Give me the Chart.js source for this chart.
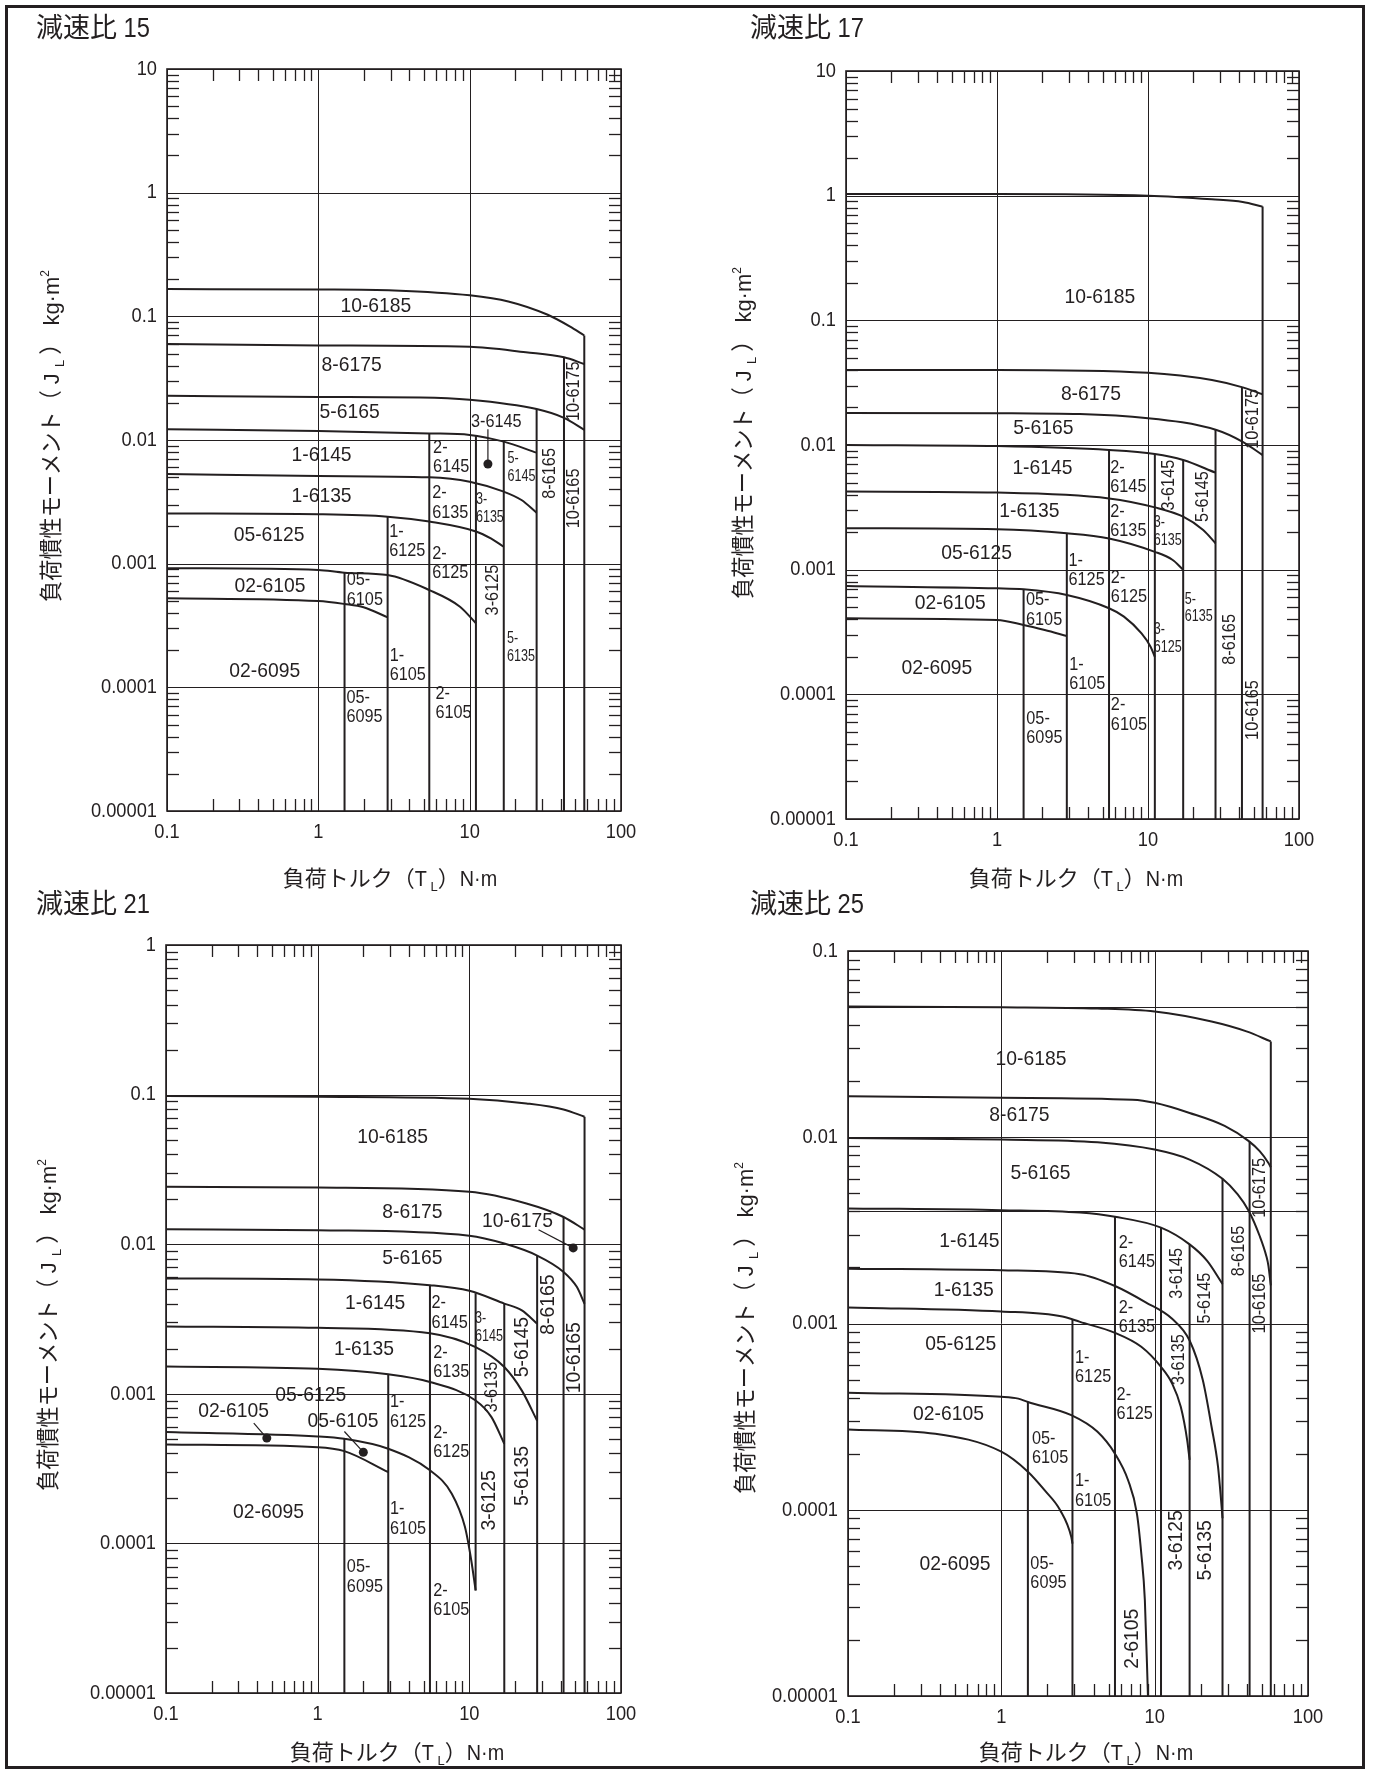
<!DOCTYPE html>
<html>
<head>
<meta charset="utf-8">
<script src="https://cdn.jsdelivr.net/npm/chart.js@4.4.0/dist/chart.umd.min.js"></script>
<style>
  html, body { margin: 0; padding: 0; background: #fff; }
  #page { position: relative; width: 1375px; height: 1774px; overflow: hidden; background: #fff; }
  #page canvas { position: absolute; left: 0; top: 0; }
  #frame { position: absolute; left: 5px; top: 5px; width: 1360px; height: 1764px;
           border: 3px solid #231f20; box-sizing: border-box; }
</style>
</head>
<body>
<div id="page">
  <div id="frame"></div>
  <canvas id="c15" width="1375" height="1774"></canvas>
  <canvas id="c17" width="1375" height="1774"></canvas>
  <canvas id="c21" width="1375" height="1774"></canvas>
  <canvas id="c25" width="1375" height="1774"></canvas>
</div>
<script>
'use strict';

// ── Axis ticks ──────────────────────────────────────────────────────────
const xTickValues = [0.1, 1, 10, 100];
const xTickLabels = ['0.1', '1', '10', '100'];

const yTickValues15 = [0.00001, 0.0001, 0.001, 0.01, 0.1, 1, 10];
const yTickLabels15 = ['0.00001', '0.0001', '0.001', '0.01', '0.1', '1', '10'];
const yTickValues21 = [0.00001, 0.0001, 0.001, 0.01, 0.1, 1];
const yTickLabels21 = ['0.00001', '0.0001', '0.001', '0.01', '0.1', '1'];
const yTickValues25 = [0.00001, 0.0001, 0.001, 0.01, 0.1];
const yTickLabels25 = ['0.00001', '0.0001', '0.001', '0.01', '0.1'];

// ── 減速比 15 ─────────────────────────────────────────────────────────────
// inertia limit curves [torque N·m, J kg·m²], top to bottom
const curves15 = [
  [[0.1, 0.166], [1, 0.165], [3.17, 0.162], [10, 0.148], [18, 0.132], [32.8, 0.103], [45.8, 0.083], [57.2, 0.070]],
  [[0.1, 0.0597], [1, 0.0582], [10, 0.0568], [23.5, 0.0512], [42, 0.0466], [57.2, 0.0412]],
  [[0.1, 0.0228], [1, 0.0223], [4.73, 0.0221], [10, 0.0212], [27.7, 0.0178], [42, 0.0151], [57.2, 0.0121]],
  [[0.1, 0.0122], [1, 0.0118], [5.41, 0.0113], [10, 0.011], [16.8, 0.0097], [27.7, 0.0079]],
  [[0.1, 0.0053], [1, 0.00511], [5.41, 0.00499], [10, 0.0046], [16.8, 0.00382], [22, 0.00327], [27.7, 0.00258]],
  [[0.1, 0.00255], [1, 0.00251], [2.87, 0.0024], [5.41, 0.00219], [11, 0.00182], [13.8, 0.0016], [16.8, 0.00137]],
  [[0.1, 0.00092], [1, 0.00089], [1.49, 0.000846], [2.87, 0.00081], [5.41, 0.000612], [8.63, 0.000449], [11, 0.00033]],
  [[0.1, 0.000525], [1, 0.000499], [1.49, 0.000472], [1.99, 0.000444], [2.87, 0.000368]]
];
// torque limits [torque, J at top of the line, J at bottom (default axis min)]
const verticals15 = [[1.49, 0.000846], [2.87, 0.0024], [5.41, 0.0113], [11, 0.0108], [16.8, 0.0097],
                     [27.7, 0.0178], [42, 0.0466], [57.2, 0.070]];
const dots15 = [[13.2, 0.0064]];
const leaders15 = [[[13.2, 0.0122], [13.2, 0.0064]]];
// [text, torque, J, style, rotated]
const labels15 = [
  ['10-6185', 2.40, 0.120, 'L'], ['8-6175', 1.66, 0.040, 'L'], ['5-6165', 1.61, 0.0168, 'L'],
  ['3-6145', 15.0, 0.0141, 'S'], ['1-6145', 1.05, 0.00757, 'L'], ['1-6135', 1.05, 0.00352, 'L'],
  ['05-6125', 0.473, 0.00171, 'L'], ['02-6105', 0.479, 0.000659, 'L'], ['02-6095', 0.443, 0.000134, 'L'],
  ['2-\n6145', 7.55, 0.00724, 'S'], ['2-\n6135', 7.45, 0.00311, 'S'], ['3-\n6135', 13.6, 0.0028, 'X'],
  ['5-\n6145', 22.0, 0.00605, 'X'], ['1-\n6125', 3.87, 0.00152, 'S'], ['2-\n6125', 7.45, 0.00101, 'S'],
  ['05-\n6105', 2.03, 0.000612, 'S'], ['3-6125', 14.3, 0.000612, 'S', 1], ['8-6165', 33.9, 0.00537, 'S', 1],
  ['10-6165', 49.0, 0.00337, 'S', 1], ['10-6175', 49.0, 0.0248, 'S', 1], ['5-\n6135', 21.8, 0.000212, 'X'],
  ['1-\n6105', 3.9, 0.00015, 'S'], ['05-\n6095', 2.02, 0.0000685, 'S'], ['2-\n6105', 7.82, 0.0000743, 'S']
];

// ── 減速比 17 ─────────────────────────────────────────────────────────────
const curves17 = [
  [[0.1, 1.03], [1, 1.03], [10, 1.0], [26.5, 0.935], [42.4, 0.89], [57.4, 0.817]],
  [[0.1, 0.040], [1, 0.040], [10, 0.038], [26.5, 0.0332], [42.4, 0.029], [57.4, 0.0255]],
  [[0.1, 0.0181], [1, 0.018], [10, 0.0164], [28.4, 0.0132], [42.4, 0.0106], [57.4, 0.0083]],
  [[0.1, 0.010], [1, 0.0098], [5.52, 0.00912], [11.1, 0.00847], [17.1, 0.00758], [28, 0.006]],
  [[0.1, 0.00423], [1, 0.00415], [5.52, 0.00373], [11.1, 0.00316], [17.1, 0.00266], [23.2, 0.00208], [28, 0.00163]],
  [[0.1, 0.00215], [1, 0.00211], [2.9, 0.00196], [5.52, 0.00178], [11.1, 0.00139], [14.5, 0.0012], [17.1, 0.001]],
  [[0.1, 0.00074], [1, 0.000708], [1.5, 0.000695], [2.9, 0.000626], [5.52, 0.00049], [6.93, 0.00042],
   [9.06, 0.000308], [10.4, 0.000241], [11.1, 0.0002]],
  [[0.1, 0.000407], [1, 0.000395], [1.5, 0.00036], [2.07, 0.000328], [2.9, 0.000294]]
];
const verticals17 = [[1.5, 0.000695], [2.9, 0.00196], [5.52, 0.00912], [11.1, 0.00847], [17.1, 0.00758],
                     [28, 0.0132], [41.9, 0.029], [57.4, 0.817]];
const labels17 = [
  ['10-6185', 4.80, 0.152, 'L'], ['8-6175', 4.19, 0.0257, 'L'], ['5-6165', 2.03, 0.0136, 'L'],
  ['10-6175', 49.4, 0.0162, 'S', 1], ['1-6145', 2.0, 0.0065, 'L'], ['2-\n6145', 7.41, 0.0055, 'S'],
  ['3-6145', 13.8, 0.00477, 'S', 1], ['5-6145', 23.2, 0.00386, 'S', 1], ['1-6135', 1.64, 0.00292, 'L'],
  ['2-\n6135', 7.41, 0.00244, 'S'], ['3-\n6135', 13.5, 0.00203, 'X'], ['05-6125', 0.733, 0.00135, 'L'],
  ['1-\n6125', 3.92, 0.00099, 'S'], ['2-\n6125', 7.48, 0.00072, 'S'], ['5-\n6135', 21.7, 0.000495, 'X'],
  ['02-6105', 0.49, 0.000537, 'L'], ['05-\n6105', 2.05, 0.000474, 'S'], ['3-\n6125', 13.5, 0.000283, 'X'],
  ['8-6165', 34.7, 0.000276, 'S', 1], ['02-6095', 0.40, 0.000162, 'L'], ['1-\n6105', 3.96, 0.000144, 'S'],
  ['05-\n6095', 2.06, 0.0000531, 'S'], ['2-\n6105', 7.48, 0.0000682, 'S'], ['10-6165', 49.4, 0.0000748, 'S', 1]
];

// ── 減速比 21 ─────────────────────────────────────────────────────────────
const curves21 = [
  [[0.1, 0.0977], [1, 0.0967], [10, 0.0938], [23.8, 0.0873], [41.8, 0.0796], [57.5, 0.0711]],
  [[0.1, 0.0242], [1, 0.0239], [10, 0.0224], [23.8, 0.0187], [41.8, 0.0152], [57.5, 0.0125]],
  [[0.1, 0.0126], [1, 0.0124], [10, 0.0114], [17, 0.0101], [28, 0.0084], [41.8, 0.00653], [51.1, 0.00519], [57.5, 0.004]],
  [[0.1, 0.0059], [1, 0.00581], [5.5, 0.00532], [10, 0.00488], [17, 0.00401], [22.2, 0.00361], [28, 0.00294]],
  [[0.1, 0.00282], [1, 0.00276], [5.5, 0.00254], [11, 0.00205], [17, 0.00151], [22.2, 0.00105], [28, 0.00066]],
  [[0.1, 0.00152], [1, 0.00147], [2.92, 0.00135], [5.5, 0.0012], [11, 0.000902], [14, 0.000698], [17, 0.000463]],
  [[0.1, 0.000555], [1, 0.000519], [1.5, 0.0005], [2.92, 0.000429], [5.5, 0.000308], [7.66, 0.000215],
   [9.35, 0.000129], [10.3, 0.0000769], [11, 0.0000485]],
  [[0.1, 0.000458], [1, 0.00044], [1.5, 0.000414], [2.92, 0.0003]]
];
const verticals21 = [[1.5, 0.0005], [2.92, 0.00135], [5.5, 0.00532], [11, 0.0047, 0.0000485], [17, 0.00401],
                     [28, 0.0084], [41.8, 0.0152], [57.5, 0.0711]];
const dots21 = [[48.4, 0.00945], [0.462, 0.000506], [2.0, 0.000407]];
const leaders21 = [[[28.6, 0.0125], [48.4, 0.00945]], [[0.379, 0.000637], [0.462, 0.000506]],
                   [[1.5, 0.00056], [2.0, 0.000407]]];
const labels21 = [
  ['10-6185', 3.12, 0.0522, 'L'], ['8-6175', 4.21, 0.0163, 'L'], ['10-6175', 20.8, 0.0143, 'L'],
  ['5-6165', 4.21, 0.008, 'L'], ['8-6165', 33.1, 0.00395, 'L', 1], ['10-6165', 48.8, 0.00174, 'L', 1],
  ['1-6145', 2.39, 0.00405, 'L'], ['2-\n6145', 7.41, 0.00348, 'S'], ['3-\n6145', 13.5, 0.00278, 'X'],
  ['5-6145', 22.2, 0.00205, 'L', 1], ['1-6135', 2.02, 0.002, 'L'], ['2-\n6135', 7.6, 0.00162, 'S'],
  ['3-6135', 14.1, 0.00111, 'S', 1], ['05-6125', 0.90, 0.000985, 'L'], ['02-6105', 0.279, 0.000766, 'L'],
  ['05-6105', 1.47, 0.000656, 'L'], ['1-\n6125', 3.94, 0.000755, 'S'], ['2-\n6125', 7.6, 0.000475, 'S'],
  ['5-6135', 22.2, 0.000282, 'L', 1], ['3-6125', 13.5, 0.000194, 'L', 1], ['02-6095', 0.474, 0.000162, 'L'],
  ['1-\n6105', 3.94, 0.000146, 'S'], ['05-\n6095', 2.05, 0.0000598, 'S'], ['2-\n6105', 7.6, 0.0000416, 'S']
];

// ── 減速比 25 ─────────────────────────────────────────────────────────────
const curves25 = [
  [[0.1, 0.0504], [1, 0.0499], [4.24, 0.0491], [10, 0.0473], [23.5, 0.0418], [39.7, 0.037], [57.2, 0.0327]],
  [[0.1, 0.0166], [1, 0.0163], [7.17, 0.0159], [10, 0.0153], [16.9, 0.0135], [28.6, 0.0115], [41.1, 0.00953],
   [48.4, 0.00842], [55.2, 0.00728], [57.2, 0.0069]],
  [[0.1, 0.0099], [1, 0.00972], [4.24, 0.0094], [10, 0.00859], [16.9, 0.00759], [27.7, 0.00598], [34.8, 0.00493],
   [41.1, 0.00402], [48.4, 0.00295], [53.5, 0.0023], [55.2, 0.00204], [57.2, 0.0016]],
  [[0.1, 0.00415], [1, 0.00406], [3.26, 0.00394], [5.51, 0.00374], [11, 0.00327], [16.9, 0.00266], [22, 0.00217], [27.7, 0.00163]],
  [[0.1, 0.00197], [1, 0.00193], [3.26, 0.00184], [5.51, 0.00159], [8.74, 0.0013], [13, 0.00106], [16.9, 0.00081],
   [20.6, 0.000497], [23.5, 0.000279], [25.9, 0.00017], [27.1, 0.000113], [27.7, 0.00009]],
  [[0.1, 0.00122], [1, 0.00116], [2.5, 0.00109], [3.26, 0.00102], [5.51, 0.000891], [8.18, 0.00075], [11, 0.000585],
   [13, 0.000476], [14.8, 0.000357], [16.3, 0.000236], [16.9, 0.000185]],
  [[0.1, 0.000425], [1, 0.000404], [1.29, 0.000395], [1.49, 0.000379], [2.86, 0.000322], [4.24, 0.000262],
   [5.51, 0.0002], [6.71, 0.000144], [7.66, 0.0000953], [8.18, 0.0000582], [8.63, 0.0000327], [9.04, 0.00001]],
  [[0.1, 0.00027], [0.371, 0.000256], [1, 0.000205], [1.49, 0.00016], [1.92, 0.000127], [2.42, 0.0000994],
   [2.86, 0.0000714], [2.91, 0.0000658]]
];
const verticals25 = [[1.49, 0.000379], [2.91, 0.00105], [5.51, 0.00374], [11, 0.00327], [16.9, 0.00266],
                     [27.7, 0.00598], [41.6, 0.0095], [57.2, 0.0327]];
const extraLines25 = [0.05, 0.004];
const labels25 = [
  ['10-6185', 1.56, 0.0261, 'L'], ['8-6175', 1.31, 0.0131, 'L'], ['5-6165', 1.80, 0.00638, 'L'],
  ['10-6175', 48.4, 0.00535, 'S', 1], ['8-6165', 35.3, 0.00245, 'S', 1], ['10-6165', 48.4, 0.00128, 'S', 1],
  ['1-6145', 0.619, 0.00277, 'L'], ['2-\n6145', 7.66, 0.0024, 'S'], ['3-6145', 13.9, 0.00186, 'S', 1],
  ['5-6145', 21.3, 0.00137, 'S', 1], ['1-6135', 0.569, 0.0015, 'L'], ['2-\n6135', 7.66, 0.00108, 'S'],
  ['3-6135', 14.3, 0.00064, 'S', 1], ['05-6125', 0.543, 0.000774, 'L'], ['1-\n6125', 3.97, 0.000582, 'S'],
  ['2-\n6125', 7.41, 0.000369, 'S'], ['02-6105', 0.452, 0.000326, 'L'], ['05-\n6105', 2.08, 0.000213, 'S'],
  ['1-\n6105', 3.97, 0.000126, 'S'], ['3-6125', 13.9, 0.0000685, 'L', 1], ['5-6135', 21.3, 0.0000605, 'L', 1],
  ['02-6095', 0.499, 0.0000509, 'L'], ['05-\n6095', 2.03, 0.0000454, 'S'], ['2-6105', 7.17, 0.0000203, 'L', 1]
];

// ── Styling ──────────────────────────────────────────────────────────────
const INK = '#231f20';
const PAGE_W = 1375, PAGE_H = 1774;
const CJK = '"Noto Sans CJK JP", "Noto Sans CJK SC", sans-serif';
const LAT = '"Liberation Sans", Arial, sans-serif';
const TICK_SIZE = 21, TICK_SX = 0.87;   // condensed tick numerals

const labelStyle = {
  L: { size: 21, sx: 0.92 },
  S: { size: 18.5, sx: 0.88 },
  X: { size: 17, sx: 0.74 }
};

const panels = {
  c15: { title: '15', titleAt: [36, 37], area: [167, 69, 621, 811], yMax: 10,
         yTicks: yTickValues15, yLabels: yTickLabels15, curves: curves15, verticals: verticals15,
         labels: labels15, dots: dots15, leaders: leaders15, extra: [], xTitleAt: [390, 878], yTitleAt: [50, 436] },
  c17: { title: '17', titleAt: [750, 37], area: [846, 71, 1299, 819], yMax: 10,
         yTicks: yTickValues15, yLabels: yTickLabels15, curves: curves17, verticals: verticals17,
         labels: labels17, dots: [], leaders: [], extra: [], xTitleAt: [1076, 878], yTitleAt: [742, 433] },
  c21: { title: '21', titleAt: [36, 913], area: [166, 945, 621, 1693], yMax: 1,
         yTicks: yTickValues21, yLabels: yTickLabels21, curves: curves21, verticals: verticals21,
         labels: labels21, dots: dots21, leaders: leaders21, extra: [], xTitleAt: [397, 1752], yTitleAt: [47, 1325] },
  c25: { title: '25', titleAt: [750, 913], area: [848, 951, 1308, 1696], yMax: 0.1,
         yTicks: yTickValues25, yLabels: yTickLabels25, curves: curves25, verticals: verticals25,
         labels: labels25, dots: [], leaders: [], extra: extraLines25, xTitleAt: [1086, 1752], yTitleAt: [744, 1328] }
};

// ── Drawing helpers ──────────────────────────────────────────────────────
function seg(ctx, x1, y1, x2, y2) {
  ctx.beginPath(); ctx.moveTo(x1, y1); ctx.lineTo(x2, y2); ctx.stroke();
}

function scaledText(ctx, text, x, y, align, sx) {
  ctx.save();
  ctx.translate(x, y);
  ctx.scale(sx, 1);
  ctx.textAlign = align;
  ctx.fillText(text, 0, 0);
  ctx.restore();
}

// parts: {t, font, sx, dy}; drawn on one baseline, anchored left or centred
function drawRich(ctx, parts, x, y, align) {
  ctx.save();
  ctx.textBaseline = 'alphabetic';
  ctx.textAlign = 'left';
  const widths = parts.map(p => { ctx.font = p.font; return ctx.measureText(p.t).width * (p.sx || 1); });
  const total = widths.reduce((s, w) => s + w, 0);
  let cx = align === 'center' ? x - total / 2 : x;
  parts.forEach((p, i) => {
    ctx.save();
    ctx.font = p.font;
    ctx.translate(cx, y + (p.dy || 0));
    ctx.scale(p.sx || 1, 1);
    ctx.fillText(p.t, 0, 0);
    ctx.restore();
    cx += widths[i];
  });
  ctx.restore();
}

function drawLabel(ctx, xs, ys, lab) {
  const [text, t, j, st, rot] = lab;
  const s = labelStyle[st];
  ctx.save();
  ctx.translate(xs.getPixelForValue(t), ys.getPixelForValue(j));
  if (rot) ctx.rotate(-Math.PI / 2);
  ctx.scale(s.sx, 1);
  ctx.font = `${s.size}px ${LAT}`;
  ctx.textBaseline = 'middle';
  ctx.textAlign = 'left';
  const lines = text.split('\n');
  const lh = s.size * 1.05;
  const w = Math.max(...lines.map(l => ctx.measureText(l).width));
  lines.forEach((l, i) => ctx.fillText(l, -w / 2, (i - (lines.length - 1) / 2) * lh));
  ctx.restore();
}

const sheetPlugin = {
  id: 'sheet',
  beforeDatasetsDraw(chart) {
    const p = panels[chart.canvas.id];
    const { ctx, chartArea: a } = chart;
    const xs = chart.scales.x, ys = chart.scales.y;
    ctx.save();
    ctx.strokeStyle = INK;
    // decade grid
    ctx.lineWidth = 1;
    xTickValues.forEach(v => { const px = Math.round(xs.getPixelForValue(v)) + 0.5; seg(ctx, px, a.top, px, a.bottom); });
    p.yTicks.concat(p.extra).forEach(v => { const py = Math.round(ys.getPixelForValue(v)) + 0.5; seg(ctx, a.left, py, a.right, py); });
    // minor ticks on all four sides
    ctx.lineWidth = 1.3;
    for (let e = -1; e < 2; e++) {
      for (let k = 2; k <= 9; k++) {
        const px = Math.round(xs.getPixelForValue(k * Math.pow(10, e))) + 0.5;
        seg(ctx, px, a.top, px, a.top + 12);
        seg(ctx, px, a.bottom - 12, px, a.bottom);
      }
    }
    const eMax = Math.round(Math.log10(p.yMax));
    for (let e = -5; e < eMax; e++) {
      for (let k = 2; k <= 9; k++) {
        const py = Math.round(ys.getPixelForValue(k * Math.pow(10, e))) + 0.5;
        seg(ctx, a.left, py, a.left + 12, py);
        seg(ctx, a.right - 12, py, a.right, py);
      }
    }
    // tick labels of the library's axes, set in a condensed face
    ctx.fillStyle = INK;
    ctx.font = `${TICK_SIZE}px ${LAT}`;
    ctx.textBaseline = 'middle';
    xs.ticks.forEach(t => scaledText(ctx, t.label, xs.getPixelForValue(t.value), a.bottom + 21, 'center', TICK_SX));
    ys.ticks.forEach(t => scaledText(ctx, t.label, a.left - 10, ys.getPixelForValue(t.value), 'right', TICK_SX));
    ctx.restore();
  },
  afterDatasetsDraw(chart) {
    const p = panels[chart.canvas.id];
    const { ctx, chartArea: a } = chart;
    const xs = chart.scales.x, ys = chart.scales.y;
    ctx.save();
    ctx.strokeStyle = INK;
    ctx.lineWidth = 1.6;
    ctx.strokeRect(a.left, a.top, a.right - a.left, a.bottom - a.top);
    ctx.fillStyle = INK;
    p.labels.forEach(l => drawLabel(ctx, xs, ys, l));

    // panel title
    drawRich(ctx, [
      { t: '減速比', font: `27px ${CJK}` },
      { t: ' ' + p.title, font: `27px ${LAT}`, sx: 0.88 }
    ], p.titleAt[0], p.titleAt[1], 'left');

    // x axis title
    drawRich(ctx, [
      { t: '負荷トルク（', font: `22px ${CJK}` },
      { t: 'T', font: `22px ${LAT}`, sx: 0.9 },
      { t: ' L', font: `13px ${LAT}`, dy: 5 },
      { t: '）', font: `22px ${CJK}` },
      { t: 'N·m', font: `22px ${LAT}`, sx: 0.9 }
    ], p.xTitleAt[0], p.xTitleAt[1] + 8, 'center');

    // y axis title, reading bottom to top
    ctx.save();
    ctx.translate(p.yTitleAt[0] + 9, p.yTitleAt[1]);
    ctx.rotate(-Math.PI / 2);
    drawRich(ctx, [
      { t: '負荷慣性モーメント（', font: `23px ${CJK}`, sx: 0.92 },
      { t: ' J ', font: `22px ${LAT}` },
      { t: 'L', font: `13px ${LAT}`, dy: 5 },
      { t: ' ）', font: `23px ${CJK}` },
      { t: ' kg·m', font: `22px ${LAT}` },
      { t: '2', font: `12px ${LAT}`, dy: -10 }
    ], 0, 0, 'center');
    ctx.restore();
    ctx.restore();
  }
};

function buildChart(id) {
  const p = panels[id];
  const datasets = [];
  p.curves.forEach(c => datasets.push({
    data: c.map(([x, y]) => ({ x, y })),
    borderColor: INK, borderWidth: 2, pointRadius: 0, fill: false,
    cubicInterpolationMode: 'monotone'
  }));
  p.verticals.forEach(([t, top, bottom]) => datasets.push({
    data: [{ x: t, y: top }, { x: t, y: bottom || 0.00001 }],
    borderColor: INK, borderWidth: 2, pointRadius: 0, fill: false, tension: 0
  }));
  p.leaders.forEach(l => datasets.push({
    data: l.map(([x, y]) => ({ x, y })),
    borderColor: INK, borderWidth: 1.2, pointRadius: 0, fill: false, tension: 0
  }));
  if (p.dots.length) datasets.push({
    type: 'scatter',
    data: p.dots.map(([x, y]) => ({ x, y })),
    pointRadius: 4.5, pointBackgroundColor: INK, pointBorderWidth: 0, showLine: false
  });

  const a = p.area;
  new Chart(document.getElementById(id), {
    type: 'line',
    data: { datasets },
    options: {
      responsive: false, animation: false, devicePixelRatio: 1, events: [],
      layout: { padding: { left: 0, top: a[1], right: PAGE_W - a[2], bottom: 0 } },
      plugins: { legend: { display: false }, tooltip: { enabled: false } },
      scales: {
        x: {
          type: 'logarithmic', min: 0.1, max: 100,
          grid: { display: false }, border: { display: false },
          afterBuildTicks: s => { s.ticks = xTickValues.map(value => ({ value })); },
          afterFit: s => { s.height = PAGE_H - a[3]; },
          ticks: { display: false, autoSkip: false, callback: (v, i) => xTickLabels[i] }
        },
        y: {
          type: 'logarithmic', min: 0.00001, max: p.yMax,
          grid: { display: false }, border: { display: false },
          afterBuildTicks: s => { s.ticks = p.yTicks.map(value => ({ value })); },
          afterFit: s => { s.width = a[0]; },
          ticks: { display: false, autoSkip: false, callback: (v, i) => p.yLabels[i] }
        }
      }
    },
    plugins: [sheetPlugin]
  });
}

['c15', 'c17', 'c21', 'c25'].forEach(buildChart);
</script>
</body>
</html>
